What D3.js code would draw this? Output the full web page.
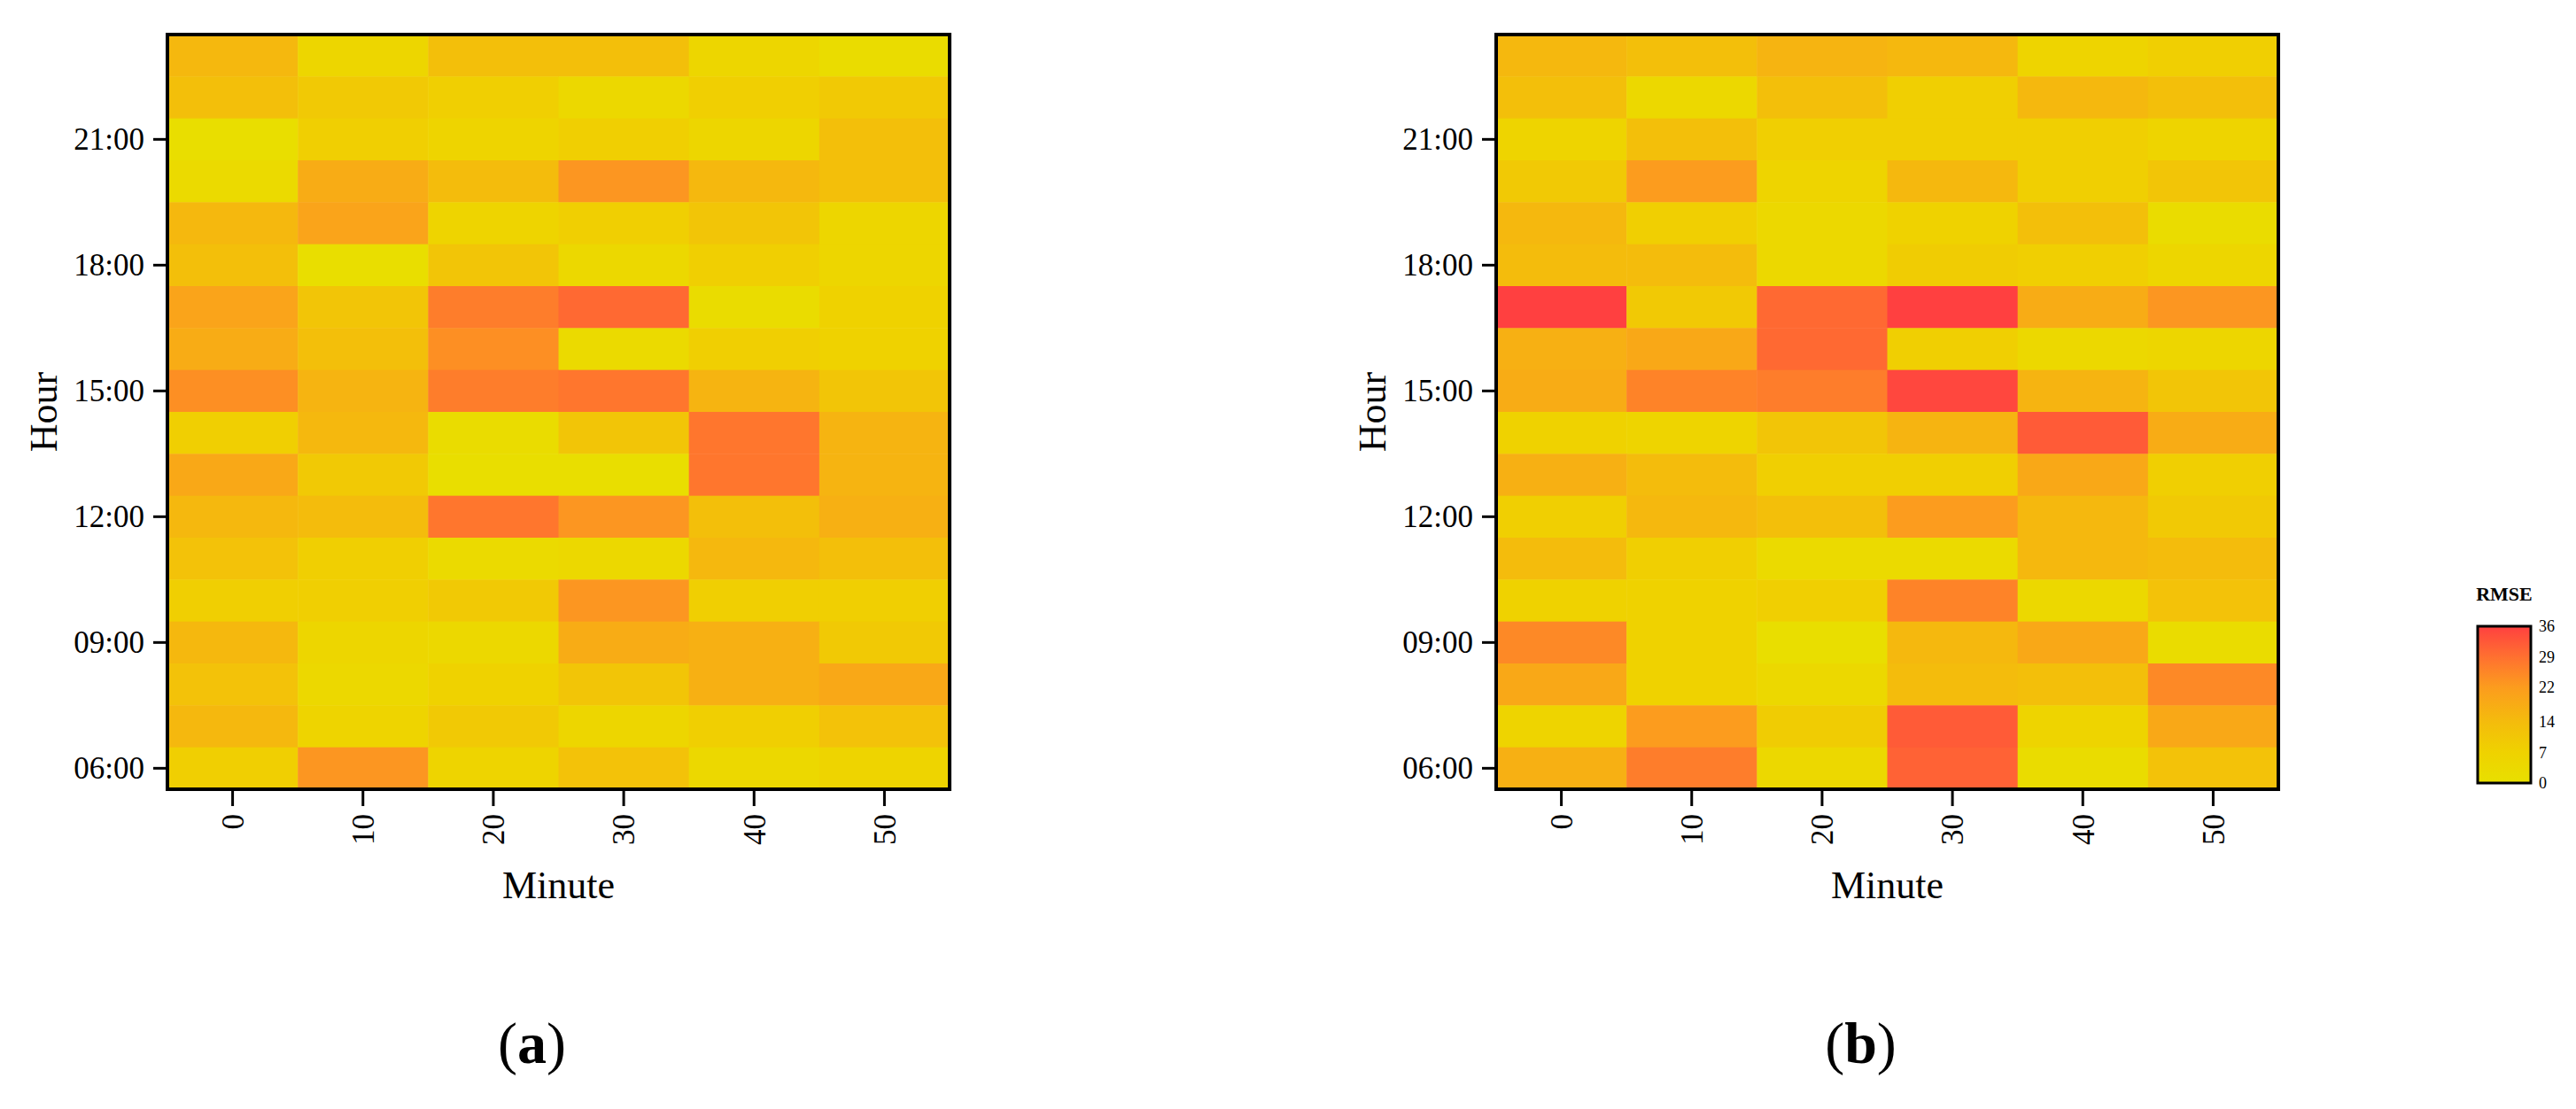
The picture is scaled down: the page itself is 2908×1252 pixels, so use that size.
<!DOCTYPE html>
<html><head><meta charset="utf-8">
<script src="https://cdn.jsdelivr.net/npm/d3@7"></script>
<style>body{margin:0;background:#fff}</style>
</head><body>
<svg id="chart" width="2908" height="1252"></svg>
<script>
// data
var minutes = [0, 10, 20, 30, 40, 50];
var hours = d3.range(6, 24); // 6..23
var hourTicks = [6, 9, 12, 15, 18, 21];
// rows listed from 23:00 down to 06:00
var rmseA = [
  [15, 5, 13, 13, 5, 2],
  [13, 10, 8, 4, 8, 10],
  [1, 8, 6, 8, 5, 13],
  [3, 18, 14, 23, 15, 13],
  [15, 20, 6, 8, 11, 5],
  [13, 1, 11, 4, 8, 5],
  [20, 11, 27, 30, 2, 7],
  [18, 13, 24, 3, 8, 7],
  [24, 16, 27, 28, 16, 11],
  [8, 15, 2, 11, 28, 16],
  [19, 10, 1, 1, 28, 16],
  [15, 14, 28, 23, 13, 17],
  [12, 8, 3, 4, 15, 13],
  [8, 8, 10, 23, 8, 8],
  [15, 5, 4, 18, 17, 10],
  [12, 4, 7, 11, 17, 19],
  [15, 6, 10, 5, 8, 12],
  [8, 23, 6, 12, 4, 6]
];
var rmseB = [
  [15, 13, 16, 15, 6, 8],
  [13, 4, 13, 8, 15, 13],
  [6, 13, 8, 8, 8, 6],
  [10, 22, 6, 15, 8, 11],
  [15, 8, 4, 7, 13, 2],
  [14, 14, 4, 9, 8, 5],
  [36, 10, 30, 36, 18, 23],
  [17, 19, 30, 8, 4, 5],
  [18, 26, 27, 35, 16, 11],
  [7, 6, 11, 16, 32, 18],
  [17, 14, 8, 8, 19, 8],
  [8, 15, 13, 22, 15, 10],
  [14, 8, 3, 3, 15, 14],
  [7, 7, 8, 26, 4, 12],
  [25, 7, 1, 15, 19, 2],
  [19, 7, 4, 14, 13, 25],
  [6, 22, 9, 32, 6, 19],
  [17, 27, 4, 31, 2, 12]
];
var legendTicks = [0, 7, 14, 22, 29, 36];
var legendColors = ["#e8e000", "#efd200", "#f4bc0c", "#fc9c1e", "#ff7030", "#ff4040"];

var svg = d3.select("#chart");
var font = "Liberation Serif, Times New Roman, serif";
var color = d3.scaleLinear().domain(legendTicks).range(legendColors).clamp(true);

function pad(h) { return (h < 10 ? "0" : "") + h + ":00"; }

function panel(left, data, tag) {
  var top = 39, w = 883, h = 852;
  var g = svg.append("g").attr("transform", "translate(" + left + "," + top + ")");
  var x = d3.scaleBand().domain(minutes).range([0, w]);
  var y = d3.scaleBand().domain(hours).range([h, 0]);

  var cells = [];
  data.forEach(function (row, i) {
    row.forEach(function (v, j) { cells.push({ h: 23 - i, m: minutes[j], v: v }); });
  });
  g.selectAll("rect.cell").data(cells).enter().append("rect")
    .attr("x", function (d) { return x(d.m); })
    .attr("y", function (d) { return y(d.h); })
    .attr("width", x.bandwidth() + 0.5)
    .attr("height", y.bandwidth() + 0.5)
    .attr("fill", function (d) { return color(d.v); });

  g.append("rect").attr("width", w).attr("height", h)
    .attr("fill", "none").attr("stroke", "#000").attr("stroke-width", 4);

  var xa = g.append("g").attr("transform", "translate(0," + h + ")")
    .call(d3.axisBottom(x).tickSize(19).tickPadding(8));
  xa.select(".domain").remove();
  xa.selectAll("line").attr("stroke-width", 3);
  xa.selectAll("text").attr("font-family", font).attr("font-size", 35)
    .attr("transform", "rotate(-90)").attr("text-anchor", "end")
    .attr("x", -28).attr("y", 0).attr("dy", "0.35em");

  var ya = g.append("g")
    .call(d3.axisLeft(y).tickValues(hourTicks).tickFormat(pad).tickSize(16).tickPadding(10));
  ya.select(".domain").remove();
  ya.selectAll("line").attr("stroke-width", 3);
  ya.selectAll("text").attr("font-family", font).attr("font-size", 35);

  g.append("text").attr("x", w / 2).attr("y", 975).attr("text-anchor", "middle")
    .attr("font-family", font).attr("font-size", 44).text("Minute");
  g.append("text").attr("transform", "translate(-140," + (h / 2) + ") rotate(-90)")
    .attr("text-anchor", "middle").attr("dy", "0.35em")
    .attr("font-family", font).attr("font-size", 44).text("Hour");

  var lab = svg.append("text").attr("x", left + w / 2 - 30).attr("y", 1200)
    .attr("text-anchor", "middle").attr("font-family", font).attr("font-size", 66);
  lab.append("tspan").text("(");
  lab.append("tspan").attr("font-weight", "bold").text(tag);
  lab.append("tspan").text(")");
}

panel(189, rmseA, "a");
panel(1689, rmseB, "b");

// legend
var defs = svg.append("defs");
var grad = defs.append("linearGradient").attr("id", "lg")
  .attr("x1", 0).attr("y1", 1).attr("x2", 0).attr("y2", 0);
legendTicks.forEach(function (t, i) {
  grad.append("stop").attr("offset", t / 36).attr("stop-color", legendColors[i]);
});
var ly = d3.scaleLinear().domain([0, 36]).range([884, 707]);
svg.append("rect").attr("x", 2797).attr("y", 707).attr("width", 60).attr("height", 177)
  .attr("fill", "url(#lg)").attr("stroke", "#000").attr("stroke-width", 3);
svg.selectAll("text.lt").data(legendTicks).enter().append("text")
  .attr("x", 2866).attr("y", function (d) { return ly(d); }).attr("dy", "0.35em")
  .attr("font-family", font).attr("font-size", 18).text(function (d) { return d; });
svg.append("text").attr("x", 2827).attr("y", 678).attr("text-anchor", "middle")
  .attr("font-family", font).attr("font-size", 22).attr("font-weight", "bold").text("RMSE");
</script>
</body></html>
